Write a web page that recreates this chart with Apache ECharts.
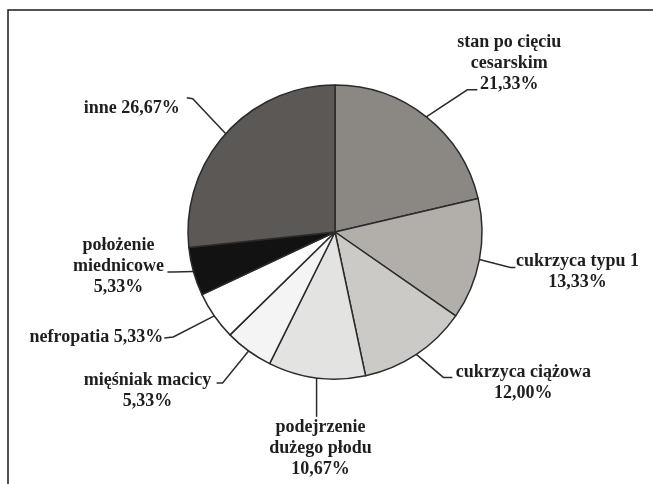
<!DOCTYPE html>
<html>
<head>
<meta charset="utf-8">
<script src="https://cdn.jsdelivr.net/npm/echarts@6/dist/echarts.min.js"></script>
<style>
  html, body { margin: 0; padding: 0; background: #ffffff; }
  #chart { width: 653px; height: 484px; }
</style>
</head>
<body>
<div id="chart"></div>
<script>
// Wskazania do cięcia cesarskiego (% przypadków)
const categories = [
  'stan po cięciu\ncesarskim',
  'cukrzyca typu 1',
  'cukrzyca ciążowa',
  'podejrzenie\ndużego płodu',
  'mięśniak macicy',
  'nefropatia',
  'położenie\nmiednicowe',
  'inne'
];
const shares = [21.33, 13.33, 12.00, 10.67, 5.33, 5.33, 5.33, 26.67];
const sliceColors = ['#8b8884', '#b2afab', '#cccac7', '#e3e3e1', '#f3f4f3', '#ffffff', '#121212', '#5b5855'];

// Label placement relative to the slice's leader anchor point:
// text offset (dx, dy), leader elbow and leader end offsets, name/value separator.
const labelPlacement = [
  { dx: 83,   dy: -53,  elbow: [41, -27],  end: [51, -27], sep: '\n' },
  { dx: 98,   dy: 12.5, elbow: [31, 8],    end: [36, 8],   sep: '\n' },
  { dx: 107,  dy: 28.5, elbow: [27, 23],   end: [36, 23],  sep: '\n' },
  { dx: 4,    dy: 71,   elbow: [0, 37],    end: [0, 39],   sep: '\n' },
  { dx: -101, dy: 40,   elbow: [-26, 32],  end: [-32, 32], sep: '\n' },
  { dx: -118, dy: 21,   elbow: [-41, 21],  end: [-50, 22], sep: ' ' },
  { dx: -75,  dy: -5,   elbow: [-20, 0.5], end: [-26, 0.5], sep: '\n' },
  { dx: -94,  dy: -25,  elbow: [-33, -35], end: [-39, -36], sep: ' ' }
];

const fmt = v => v.toFixed(2).replace('.', ',') + '%';

const chart = echarts.init(document.getElementById('chart'), null, { renderer: 'canvas' });

chart.setOption({
  animation: false,
  backgroundColor: '#ffffff',
  graphic: [{
    type: 'polyline',
    silent: true,
    shape: { points: [[8, 500], [8, 10], [670, 10]] },
    style: { stroke: '#1a1a1a', lineWidth: 1.5, fill: null }
  }],
  series: [{
    type: 'pie',
    center: [335, 232],
    radius: 147,
    startAngle: 90,
    clockwise: true,
    avoidLabelOverlap: false,
    emphasis: { disabled: true },
    itemStyle: { borderColor: '#2b2b2b', borderWidth: 1.5 },
    label: {
      show: true,
      position: 'outside',
      alignTo: 'none',
      fontFamily: '"Liberation Serif", "Times New Roman", serif',
      fontWeight: 'bold',
      fontSize: 18,
      lineHeight: 21,
      color: '#1e1e1e',
      align: 'center',
      formatter: p => p.name + labelPlacement[p.dataIndex].sep + fmt(p.value)
    },
    labelLine: {
      show: true,
      length: 20,
      length2: 10,
      lineStyle: { color: '#2b2b2b', width: 1.5 }
    },
    labelLayout: params => {
      const cfg = labelPlacement[params.dataIndex];
      const p0 = params.labelLinePoints[0];
      return {
        x: p0[0] + cfg.dx,
        y: p0[1] + cfg.dy,
        align: 'center',
        verticalAlign: 'middle',
        labelLinePoints: [
          [p0[0], p0[1]],
          [p0[0] + cfg.elbow[0], p0[1] + cfg.elbow[1]],
          [p0[0] + cfg.end[0], p0[1] + cfg.end[1]]
        ]
      };
    },
    data: categories.map((name, i) => ({
      name: name,
      value: shares[i],
      itemStyle: { color: sliceColors[i] }
    }))
  }]
});
</script>
</body>
</html>
